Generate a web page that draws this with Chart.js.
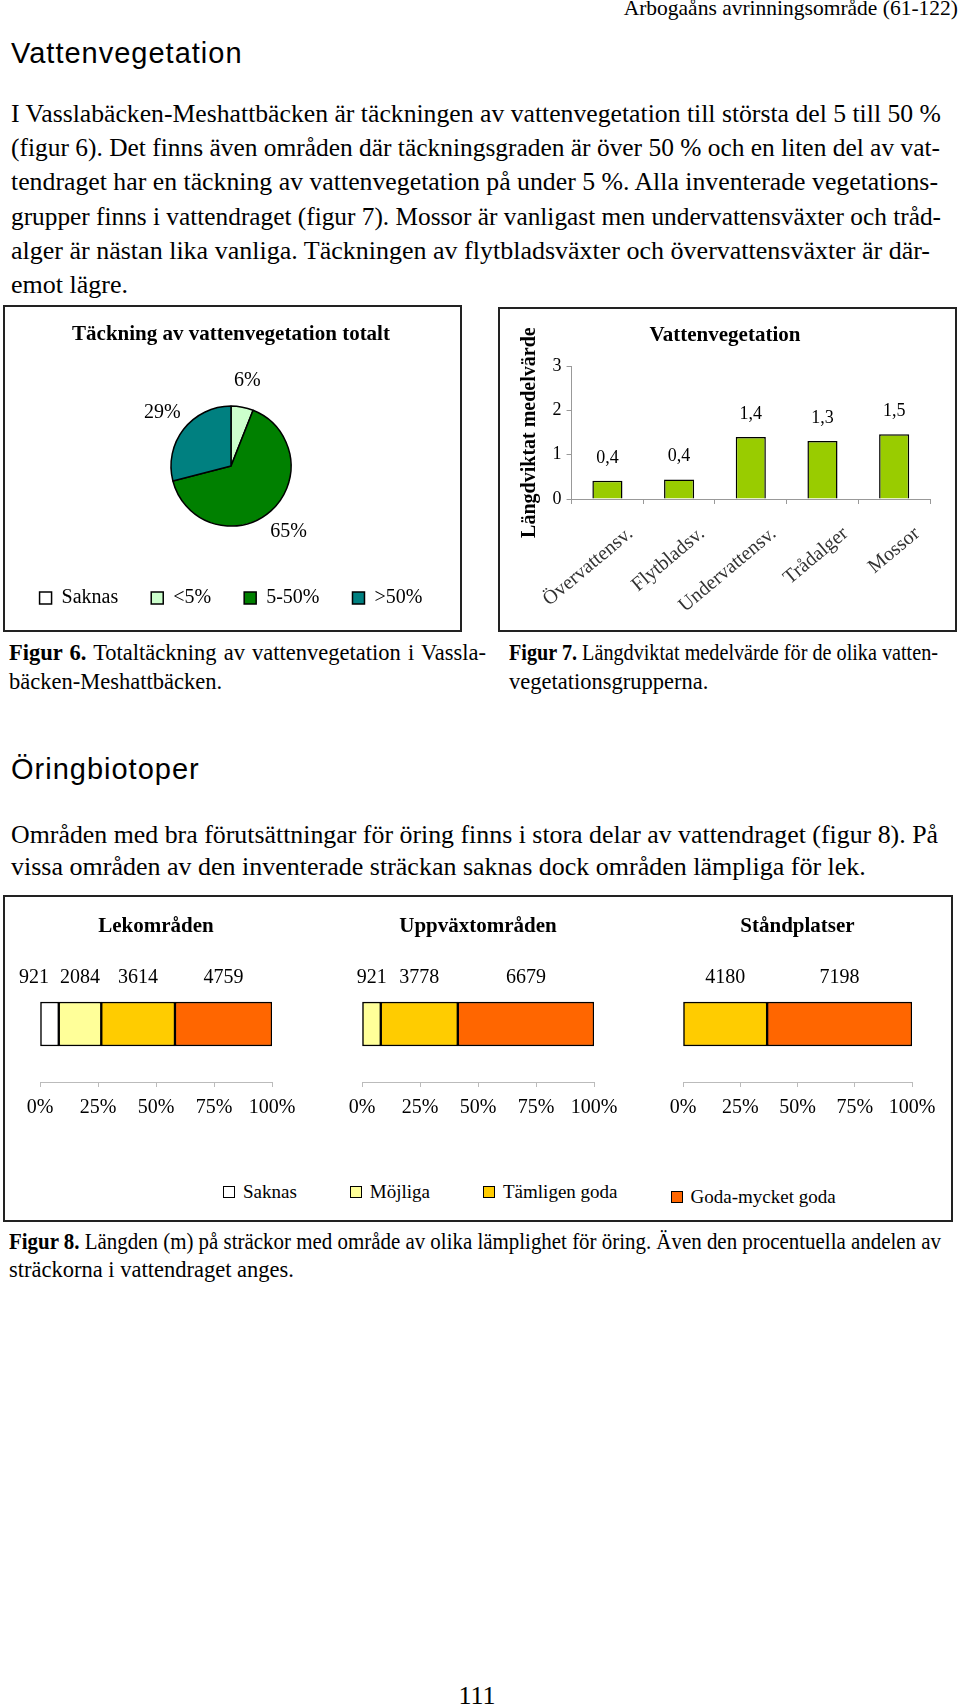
<!DOCTYPE html>
<html lang="sv">
<head>
<meta charset="utf-8">
<title>Vattenvegetation och öringbiotoper</title>
<script src="https://cdn.jsdelivr.net/npm/chart.js@4.4.1/dist/chart.umd.min.js"></script>
<style>
  html, body { margin: 0; padding: 0; background: #fff; }
  #page { position: relative; width: 960px; height: 1707px; overflow: hidden;
          font-family: 'Liberation Serif', 'Times New Roman', serif; color: #000; }
  .t { position: absolute; white-space: pre; line-height: 1; }
  .sans { font-family: 'Liberation Sans', Arial, sans-serif; letter-spacing: 1px; }
  .box { position: absolute; border: 2px solid #222; box-sizing: border-box; }
  canvas { position: absolute; }
  #legend8 { position: absolute; display: flex; gap: 53px; align-items: center; font-size: 19px; line-height: 20px; }
  #legend8 .item { display: flex; align-items: center; gap: 8px; }
  #legend8 .sw { width: 12px; height: 12px; border: 1.5px solid #000; box-sizing: border-box; }
</style>
</head>
<body>
<div id="page">
  <div class="box" style="left:3px;top:305px;width:459px;height:327px"></div>
  <div class="box" style="left:498px;top:307px;width:459px;height:325px"></div>
  <div class="box" style="left:3px;top:895px;width:950px;height:327px"></div>
  <canvas id="fig6" width="459" height="327" style="left:3px;top:305px"></canvas>
  <canvas id="fig7" width="459" height="325" style="left:498px;top:307px"></canvas>
  <canvas id="fig8a" width="317" height="240" style="left:3px;top:895px"></canvas>
  <canvas id="fig8b" width="317" height="240" style="left:320px;top:895px"></canvas>
  <canvas id="fig8c" width="316" height="240" style="left:637px;top:895px"></canvas>
  <div id="legend8" style="left:223px;top:1177px"></div>
</div>
<script>
// --- figur 6: täckning av vattenvegetation (%)
const coverLabels = ["Saknas", "<5%", "5-50%", ">50%"];
const coverValues = [0, 6, 65, 29];
const coverColors = ["#FFFFFF", "#CCFFCC", "#008000", "#008080"];

// --- figur 7: längdviktat medelvärde
const vegCategories = ["Övervattensv.", "Flytbladsv.", "Undervattensv.", "Trådalger", "Mossor"];
const vegValues = [0.41, 0.44, 1.40, 1.31, 1.46];
const vegTicks = [0, 1, 2, 3];

// --- figur 8: längd (m) per lämplighetsklass
const fig8Categories = ["Saknas", "Möjliga", "Tämligen goda", "Goda-mycket goda"];
const fig8Colors = ["#FFFFFF", "#FFFF99", "#FFCC00", "#FF6600"];
const lekValues = [921, 2084, 3614, 4759];
const uppvaxtValues = [0, 921, 3778, 6679];
const standValues = [0, 0, 4180, 7198];
const pctTicks = [0, 25, 50, 75, 100];

const SERIF = "'Liberation Serif', 'Times New Roman', serif";
Chart.defaults.font.family = SERIF;
Chart.defaults.color = "#000";

/* ---------- page text ---------- */
const page = document.getElementById("page");

// justify one line to a given width; squeeze it if it is too long
function spread(el, width){
  const gaps = (el.textContent.match(/ /g) || []).length;
  const w = el.getBoundingClientRect().width;
  if (w > width){
    el.style.transformOrigin = "0 0";
    el.style.transform = "scaleX(" + (width / w) + ")";
    return;
  }
  if (gaps) el.style.wordSpacing = ((width - w) / gaps) + "px";
}

function text(x, base, size, content, opts = {}){
  const d = document.createElement("div");
  d.className = "t" + (opts.sans ? " sans" : "");
  d.style.fontSize = size + "px";
  d.style.top = (base - (opts.sans ? 0.8465 : 0.8375) * size) + "px";
  if (opts.right) d.style.right = (960 - x) + "px";
  else d.style.left = x + "px";
  if (opts.center) d.style.transform = "translateX(-50%)";
  d.innerHTML = content;
  page.appendChild(d);
  if (opts.width) spread(d, opts.width);
  return d;
}

text(958, 16, 21.5, "Arbogaåns avrinningsområde (61-122)", { right: true });
text(11, 64, 29, "Vattenvegetation", { sans: true });

const para1 = [
  ["I Vasslabäcken-Meshattbäcken är täckningen av vattenvegetation till största del 5 till 50 %", 930],
  ["(figur 6). Det finns även områden där täckningsgraden är över 50 % och en liten del av vat-", 929],
  ["tendraget har en täckning av vattenvegetation på under 5 %. Alla inventerade vegetations-", 927],
  ["grupper finns i vattendraget (figur 7). Mossor är vanligast men undervattensväxter och tråd-", 930],
  ["alger är nästan lika vanliga. Täckningen av flytbladsväxter och övervattensväxter är där-", 919],
  ["emot lägre.", 0]
];
para1.forEach(([s, w], i) => text(11, 122.5 + i * 34.3, 26, s, { width: w }));

text(9, 661, 22.5, "<b>Figur 6.</b> Totaltäckning av vattenvegetation i Vassla-", { width: 477 });
text(9, 690, 22.5, "bäcken-Meshattbäcken.");
text(509, 661, 22.5, "<b>Figur 7.</b> Längdviktat medelvärde för de olika vatten-", { width: 429 });
text(509, 690, 22.5, "vegetationsgrupperna.");

text(11, 780, 29, "Öringbiotoper", { sans: true });
text(11, 844, 26, "Områden med bra förutsättningar för öring finns i stora delar av vattendraget (figur 8). På", { width: 927 });
text(11, 876, 26, "vissa områden av den inventerade sträckan saknas dock områden lämpliga för lek.");

text(9, 1250, 22.5, "<b>Figur 8.</b> Längden (m) på sträckor med område av olika lämplighet för öring. Även den procentuella andelen av", { width: 932 });
text(9, 1278, 22.5, "sträckorna i vattendraget anges.");
text(477, 1705, 26, "111", { center: true });

/* ---------- figur 6 ---------- */
const pieLabelPlugin = {
  id: "pieLabels",
  afterDatasetsDraw(chart){
    const ctx = chart.ctx;
    const data = chart.data.datasets[0].data;
    ctx.save();
    ctx.font = "20px " + SERIF;
    ctx.fillStyle = "#000";
    ctx.textAlign = "center";
    ctx.textBaseline = "middle";
    chart.getDatasetMeta(0).data.forEach((arc, i) => {
      if (!data[i]) return;
      const p = arc.getProps(["x", "y", "startAngle", "endAngle", "outerRadius"], true);
      const a = (p.startAngle + p.endAngle) / 2;
      const r = p.outerRadius + 27;
      ctx.fillText(data[i] + "%", p.x + Math.cos(a) * r, p.y + Math.sin(a) * r);
    });
    ctx.restore();
  }
};

new Chart(document.getElementById("fig6"), {
  type: "pie",
  data: {
    labels: coverLabels,
    datasets: [{ data: coverValues, backgroundColor: coverColors, borderColor: "#000", borderWidth: 1.5, radius: 60 }]
  },
  options: {
    responsive: false, animation: false,
    layout: { padding: { top: 0, bottom: 14, left: 0, right: 3 } },
    plugins: {
      title: { display: true, text: "Täckning av vattenvegetation totalt", color: "#000",
               font: { size: 21, weight: "bold" }, padding: { top: 17, bottom: 30 } },
      legend: { position: "bottom",
                labels: { boxWidth: 12, boxHeight: 12, padding: 33, color: "#000", font: { size: 20 } } },
      tooltip: { enabled: false }
    }
  },
  plugins: [pieLabelPlugin]
});

/* ---------- figur 7 ---------- */
const barValuePlugin = {
  id: "barValues",
  afterDatasetsDraw(chart){
    const ctx = chart.ctx;
    const data = chart.data.datasets[0].data;
    ctx.save();
    ctx.font = "18px " + SERIF;
    ctx.fillStyle = "#000";
    ctx.textAlign = "center";
    ctx.textBaseline = "middle";
    chart.getDatasetMeta(0).data.forEach((bar, i) => {
      ctx.fillText(data[i].toFixed(1).replace(".", ","), bar.x, bar.y - 23);
    });
    ctx.restore();
  }
};

new Chart(document.getElementById("fig7"), {
  type: "bar",
  data: {
    labels: vegCategories,
    datasets: [{ data: vegValues, backgroundColor: "#99CC00", borderColor: "#000", borderWidth: 1.5,
                 barPercentage: 0.42, categoryPercentage: 1 }]
  },
  options: {
    responsive: false, animation: false,
    layout: { padding: { top: 0, bottom: 0, left: 22, right: 27 } },
    plugins: {
      legend: { display: false }, tooltip: { enabled: false },
      title: { display: true, text: "Vattenvegetation", color: "#000",
               font: { size: 21, weight: "bold" }, padding: { top: 16, bottom: 18 } }
    },
    scales: {
      y: {
        min: vegTicks[0], max: vegTicks[vegTicks.length - 1],
        border: { color: "#999" },
        grid: { drawOnChartArea: false, color: "#999", tickLength: 5 },
        ticks: { stepSize: 0.5, padding: 5, font: { size: 18 }, color: "#000",
                 callback: v => vegTicks.includes(v) ? v : "" },
        title: { display: true, text: "Längdviktat medelvärde", color: "#000",
                 font: { size: 20, weight: "bold" }, padding: { top: -7, bottom: 0 } },
        afterFit: s => { s.width = 47; }
      },
      x: {
        border: { color: "#999" },
        grid: { drawOnChartArea: false, color: "#999", tickLength: 5 },
        ticks: { minRotation: 40, maxRotation: 40, autoSkip: false, labelOffset: 23, padding: 18,
                 font: { size: 20 }, color: "#333" },
        afterFit: s => { s.height = 133; }
      }
    }
  },
  plugins: [barValuePlugin]
});

/* ---------- figur 8 ---------- */
const segmentLabelPlugin = {
  id: "segmentLabels",
  afterDatasetsDraw(chart){
    const ctx = chart.ctx;
    ctx.save();
    ctx.font = "20px " + SERIF;
    ctx.fillStyle = "#000";
    ctx.textAlign = "center";
    ctx.textBaseline = "middle";
    const items = [];
    chart.data.datasets.forEach((ds, i) => {
      if (!ds.meters) return;
      const bar = chart.getDatasetMeta(i).data[0];
      const s = String(ds.meters);
      items.push({ s, w: ctx.measureText(s).width, cx: (bar.x + bar.base) / 2, y: bar.y - bar.height / 2 - 24 });
    });
    // push crowded labels to the left
    for (let k = items.length - 2; k >= 0; k--){
      const limit = items[k + 1].cx - items[k + 1].w / 2 - 11;
      if (items[k].cx + items[k].w / 2 > limit) items[k].cx = limit - items[k].w / 2;
    }
    items.forEach(it => ctx.fillText(it.s, it.cx, it.y));
    ctx.restore();
  }
};

function stackedBar(id, title, values, padLeft, padRight){
  const total = values.reduce((a, b) => a + b, 0);
  new Chart(document.getElementById(id), {
    type: "bar",
    data: {
      labels: [title],
      datasets: fig8Categories.map((name, i) => ({
        label: name,
        data: [values[i] / total * 100],
        meters: values[i],
        backgroundColor: fig8Colors[i],
        borderColor: "#000", borderWidth: 1.5, borderSkipped: false,
        barThickness: 44
      }))
    },
    options: {
      indexAxis: "y", responsive: false, animation: false,
      layout: { padding: { top: 0, bottom: 0, left: padLeft, right: padRight } },
      plugins: {
        legend: { display: false }, tooltip: { enabled: false },
        title: { display: true, text: title, color: "#000",
                 font: { size: 21, weight: "bold" }, padding: { top: 19.4, bottom: 26.4 } }
      },
      scales: {
        x: {
          stacked: true, min: pctTicks[0], max: pctTicks[pctTicks.length - 1],
          border: { color: "#bbb" },
          grid: { drawOnChartArea: false, color: "#bbb", tickLength: 5 },
          ticks: { stepSize: 25, padding: 9, font: { size: 20 }, color: "#000", callback: v => v + "%" },
          afterFit: s => { s.height = 53; }
        },
        y: { stacked: true, display: false }
      }
    },
    plugins: [segmentLabelPlugin]
  });
}

stackedBar("fig8a", "Lekområden", lekValues, 37, 48);
stackedBar("fig8b", "Uppväxtområden", uppvaxtValues, 42, 43);
stackedBar("fig8c", "Ståndplatser", standValues, 46, 41);

const legend8 = document.getElementById("legend8");
fig8Categories.forEach((name, i) => {
  const item = document.createElement("div");
  item.className = "item";
  if (i === fig8Categories.length - 1) item.style.marginTop = "10px";
  item.innerHTML = '<span class="sw" style="background:' + fig8Colors[i] + '"></span><span>' + name + '</span>';
  legend8.appendChild(item);
});
</script>
</body>
</html>
